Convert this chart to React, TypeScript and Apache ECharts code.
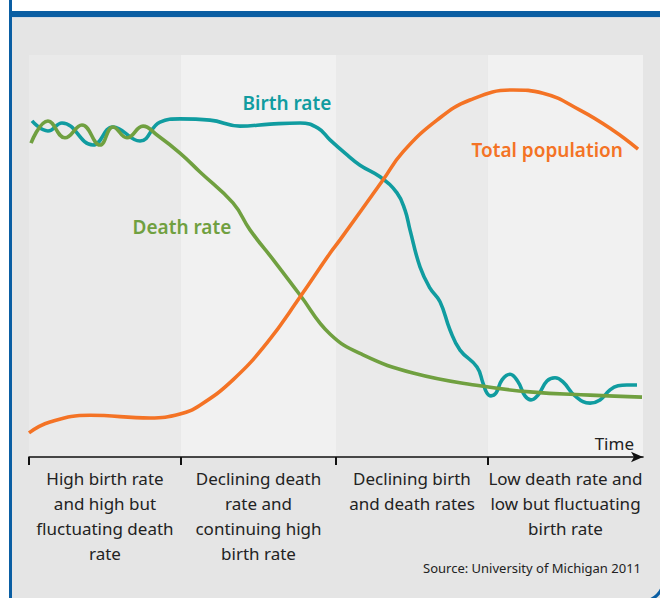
import React, { useEffect, useRef } from "react";
import * as echarts from "echarts";

// x: time (0..100), y: relative level (0..100)
const stageEdges = [0, 24.75, 50, 74.75, 100];
const stageLabels = [
  "High birth rate\nand high but\nfluctuating death\nrate",
  "Declining death\nrate and\ncontinuing high\nbirth rate",
  "Declining birth\nand death rates",
  "Low death rate and\nlow but fluctuating\nbirth rate",
];

const birthRate: [number, number][] = [
  [0.49, 83.6], [3.09, 81.1], [5.37, 83.1], [10.42, 77.6], [13.68, 82.1],
  [18.08, 78.6], [21.34, 83.3], [24.59, 84.1], [29.48, 83.8], [34.36, 82.3],
  [39.25, 82.8], [44.14, 83.1], [47.07, 81.8], [49.02, 78.9], [51.47, 75.6],
  [53.91, 72.6], [57.17, 69.7], [59.93, 65.7], [61.24, 61.4], [62.05, 56.5],
  [63.68, 47.3], [65.31, 42.0], [66.94, 38.6], [68.57, 31.6], [70.2, 26.6],
  [72.96, 22.4], [73.94, 18.4], [74.59, 15.9], [75.24, 15.2], [76.06, 15.9],
  [77.04, 19.2], [78.34, 20.6], [79.64, 18.7], [80.78, 15.2], [81.76, 14.2],
  [82.9, 15.4], [84.36, 18.9], [85.67, 19.7], [86.97, 18.7], [88.93, 15.2],
  [91.37, 13.4], [93.0, 14.2], [94.63, 16.7], [95.93, 17.7], [97.39, 17.9],
  [99.02, 17.9],
];

const deathRate: [number, number][] = [
  [0.33, 78.1], [3.09, 83.6], [5.86, 79.4], [8.63, 82.6], [11.56, 77.6],
  [13.68, 82.1], [15.96, 79.4], [18.57, 82.3], [20.85, 80.1], [24.59, 75.6],
  [27.85, 70.9], [33.22, 63.2], [35.99, 56.5], [40.07, 48.5], [44.14, 40.3],
  [49.02, 30.6], [54.4, 25.4], [62.54, 20.9], [73.45, 17.7], [81.6, 16.2],
  [91.37, 15.4], [99.84, 14.9],
];

const totalPopulation: [number, number][] = [
  [0, 6.0], [3.42, 8.7], [9.93, 10.4], [19.71, 9.7], [24.59, 10.7],
  [27.85, 12.9], [33.22, 19.2], [38.76, 28.4], [44.14, 39.8], [49.02, 50.7],
  [50.65, 54.0], [57.65, 68.9], [60.91, 75.9], [66.45, 83.8], [71.82, 88.8],
  [78.83, 91.3], [83.71, 90.5], [89.74, 86.3], [95.11, 81.3], [99.19, 76.6],
];

const seriesNames = ["Birth rate", "Death rate", "Total population"];
const labelCoords: [number, number][] = [[42.0, 88.1], [24.9, 57.2], [84.4, 76.4]];

const TEAL = "#109ca0";
const GREEN = "#70a040";
const ORANGE = "#f47325";
const FONT = "'Noto Sans', sans-serif";

export default function App() {
  const ref = useRef<HTMLDivElement>(null);
  useEffect(() => {
    if (!ref.current) return;
    const chart = echarts.init(ref.current, undefined, { renderer: "svg" });
    const stageCenters = stageEdges.slice(0, -1).map((e, i) => (e + stageEdges[i + 1]) / 2);
    const panelColors = ["#eaeaea", "#f1f1f1"];
    const markAreaData = stageEdges.slice(0, -1).map((e, i) => [
      { xAxis: e, itemStyle: { color: panelColors[i % 2] } },
      { xAxis: stageEdges[i + 1] },
    ]);
    const mkLabel = (i: number, color: string) => ({
      symbol: "circle",
      symbolSize: 0,
      silent: true,
      label: {
        show: true,
        position: "inside",
        formatter: seriesNames[i],
        color,
        fontSize: 19,
        fontWeight: 600,
        fontFamily: FONT,
      },
      data: [{ coord: labelCoords[i], value: 0 }],
    });
    const lineSeries = (i: number, data: [number, number][], color: string, extra: any = {}) => ({
      type: "line",
      name: seriesNames[i],
      data,
      smooth: 0.45,
      showSymbol: false,
      symbol: "none",
      lineStyle: { color, width: 3.6 },
      itemStyle: { color },
      markPoint: mkLabel(i, color),
      z: 3,
      ...extra,
    });
    chart.setOption({
      animation: false,
      backgroundColor: "#e5e5e5",
      grid: { left: 29, right: 17, top: 55, bottom: 141, containLabel: false },
      xAxis: {
        type: "value",
        min: 0,
        max: 100,
        z: 10,
        name: "Time",
        nameLocation: "end",
        nameGap: -9,
        nameTextStyle: {
          align: "right",
          verticalAlign: "bottom",
          padding: [0, 0, 5, 0],
          fontSize: 17,
          color: "#222",
          fontFamily: FONT,
        },
        splitLine: { show: false },
        axisLine: {
          show: true,
          symbol: ["none", "arrow"],
          symbolSize: [8, 12],
          lineStyle: { color: "#111", width: 1.6 },
        },
        axisTick: {
          show: true,
          length: 8,
          inside: false,
          customValues: stageEdges.slice(0, -1),
          lineStyle: { color: "#111", width: 2 },
        },
        axisLabel: {
          show: true,
          customValues: stageCenters,
          margin: 9,
          fontSize: 17,
          lineHeight: 25,
          color: "#222",
          fontFamily: FONT,
          align: "center",
          formatter: (v: number) => {
            const idx = stageCenters.findIndex((c) => Math.abs(c - v) < 0.01);
            return idx >= 0 ? stageLabels[idx] : "";
          },
        },
      },
      yAxis: { type: "value", min: 0, max: 100, show: false },
      series: [
        lineSeries(0, birthRate, TEAL, {
          markArea: { silent: true, data: markAreaData, z: 1 },
        }),
        lineSeries(1, deathRate, GREEN),
        lineSeries(2, totalPopulation, ORANGE),
      ],
      graphic: [
        { type: "rect", shape: { x: 0, y: 0, width: 660, height: 11 }, style: { fill: "#fff" }, z: 50 },
        { type: "rect", shape: { x: 0, y: 0, width: 10, height: 598 }, style: { fill: "#fff" }, z: 50 },
        { type: "rect", shape: { x: 10, y: 11, width: 650, height: 6 }, style: { fill: "#0a5ea3" }, z: 51 },
        { type: "rect", shape: { x: 10, y: 17, width: 650, height: 1 }, style: { fill: "#d2dbe6" }, z: 51 },
        {
          type: "rect",
          shape: { x: 10.5, y: -40, width: 652.5, height: 641, r: [0, 0, 20, 0] },
          style: { fill: "none", stroke: "#0a5ea3", lineWidth: 3 },
          z: 52,
        },
        {
          type: "text",
          right: 19,
          top: 561,
          style: {
            text: "Source: University of Michigan 2011",
            fill: "#222",
            fontSize: 13,
            fontFamily: FONT,
          },
          z: 60,
        },
      ],
    });
    return () => chart.dispose();
  }, []);
  return (
    <div
      ref={ref}
      style={{ position: "fixed", left: 0, top: 0, width: 660, height: 598 }}
    />
  );
}
